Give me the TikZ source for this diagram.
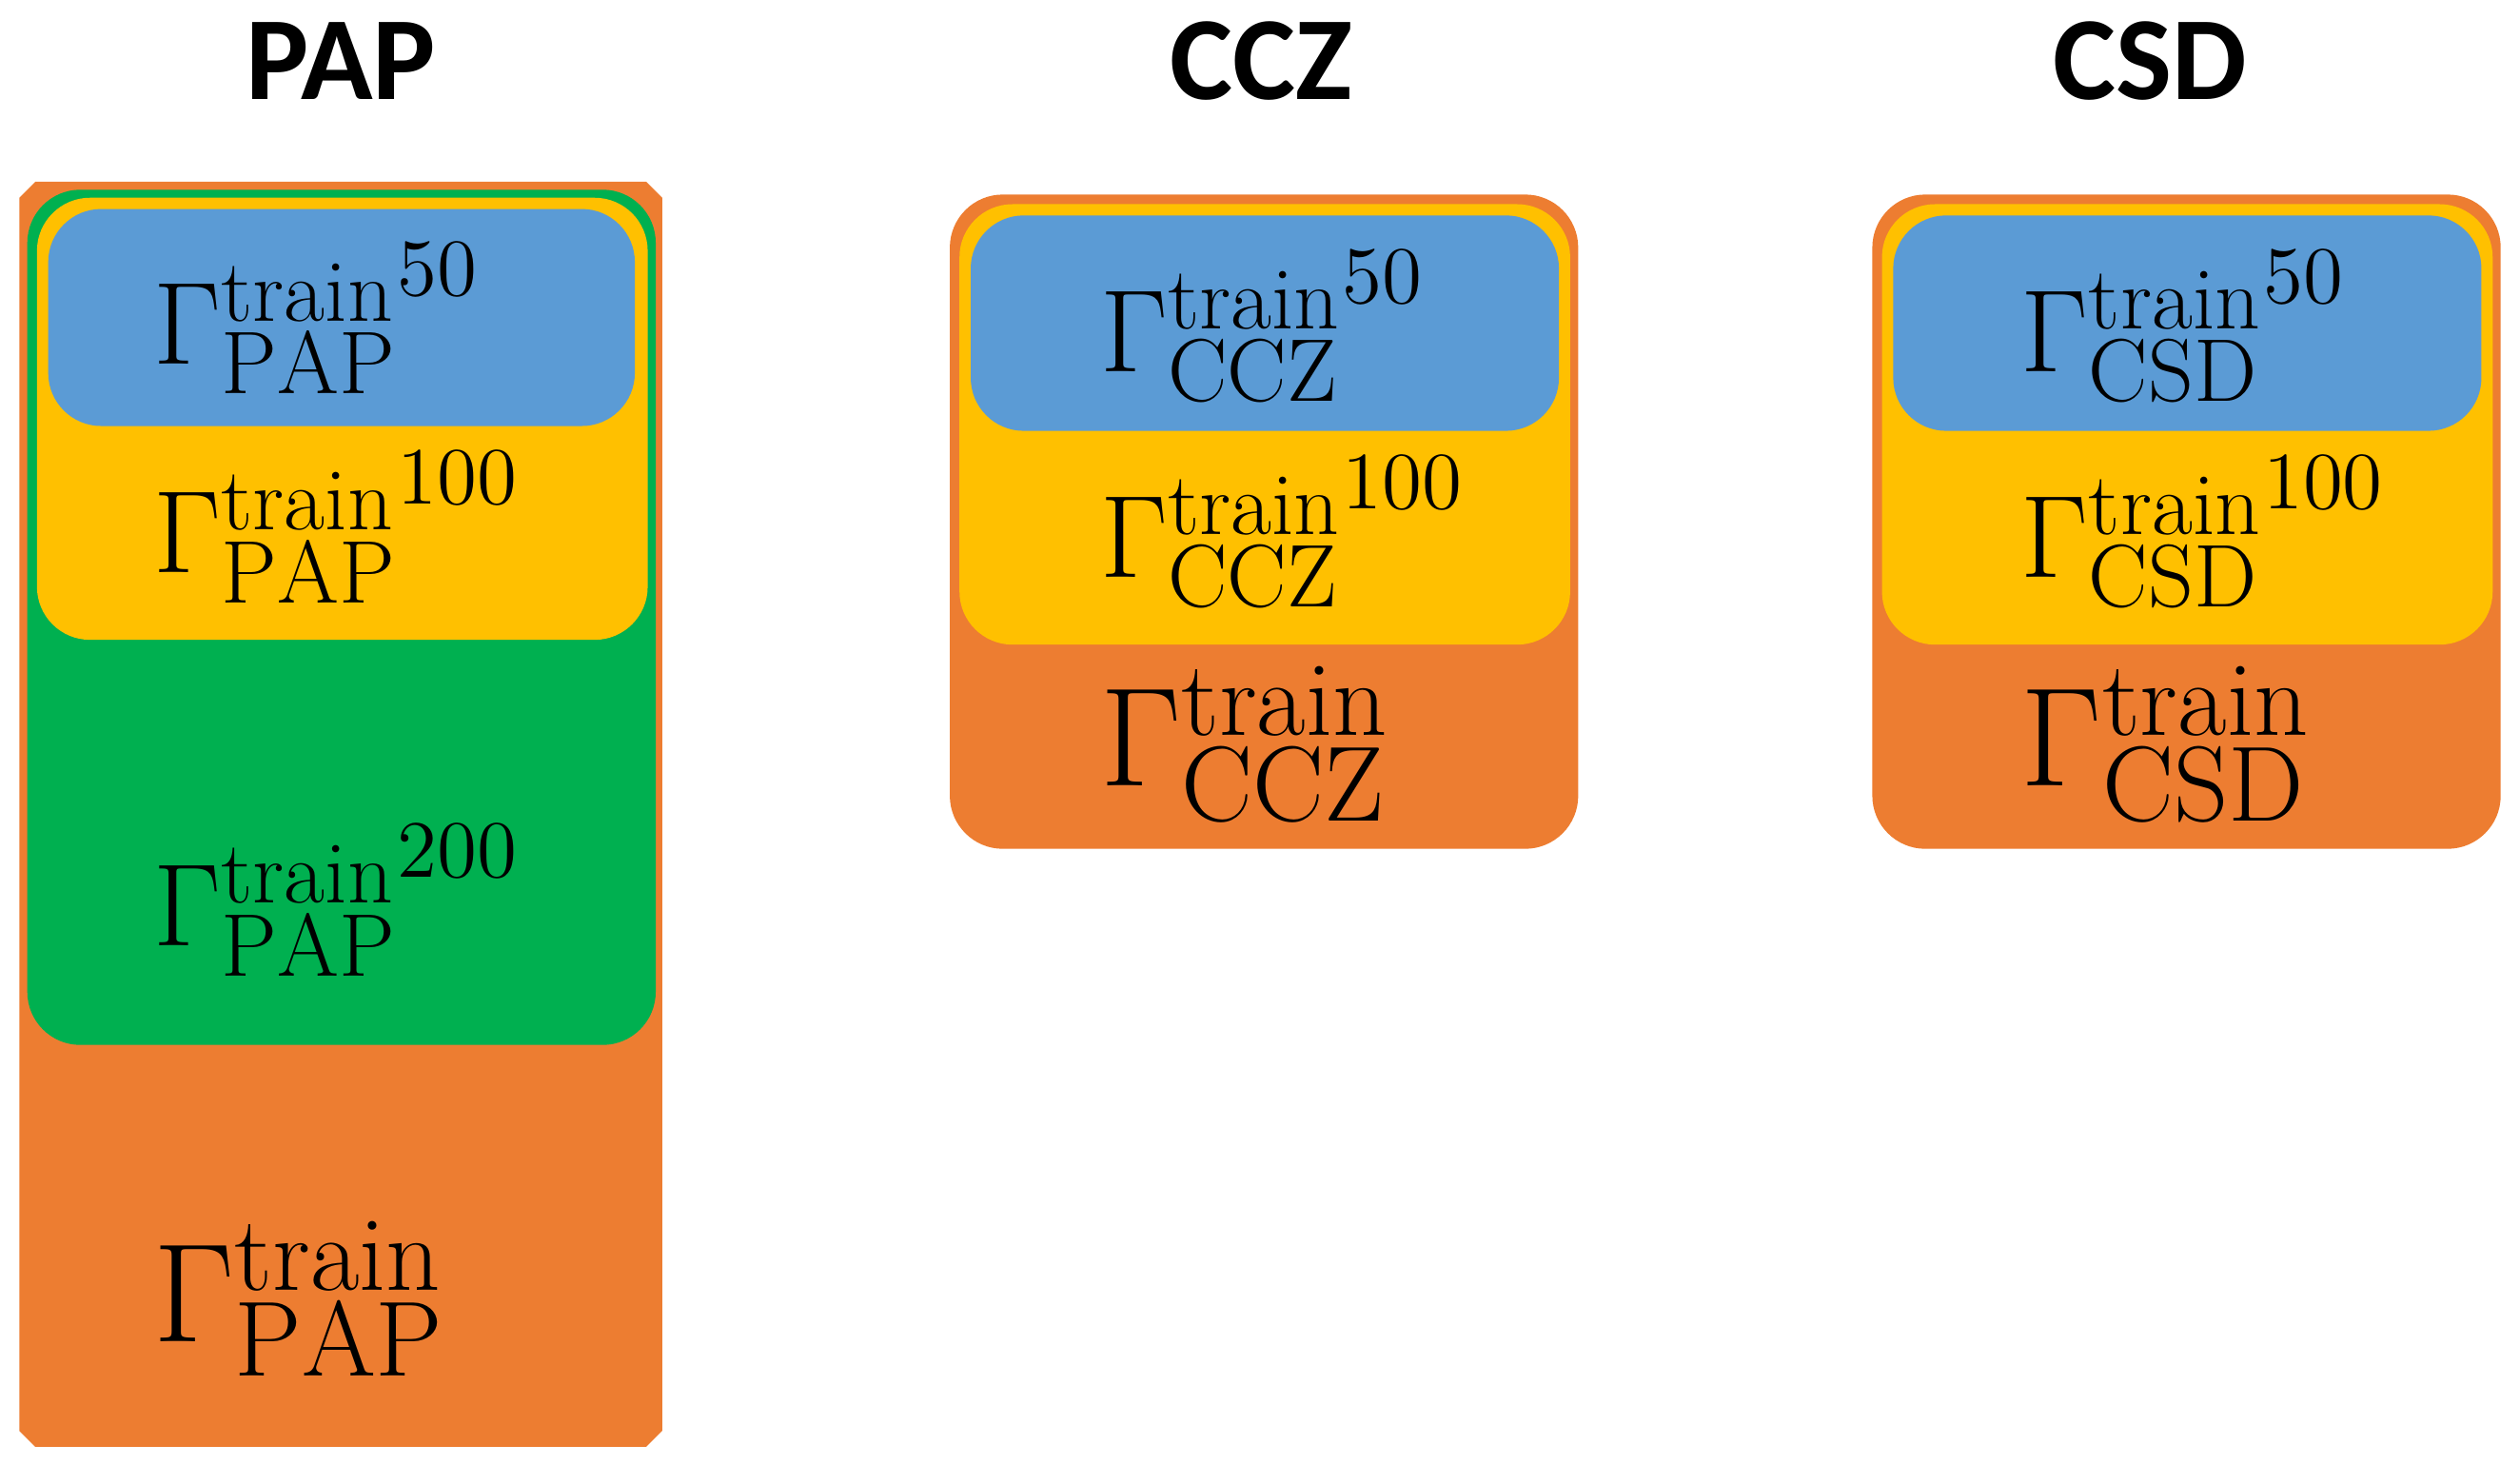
\documentclass[tikz,border=0pt]{standalone}
\usepackage{fontspec}
\newfontfamily\titlefont{Carlito}
\definecolor{cor}{HTML}{ED7D31}
\definecolor{cye}{HTML}{FFC000}
\definecolor{cgr}{HTML}{00B050}
\definecolor{cbl}{HTML}{5B9BD5}
\begin{document}
\begin{tikzpicture}[x=0.01cm,y=-0.01cm,
  box/.style={rounded corners=0.33cm},
  ttl/.style={font=\titlefont\bfseries\fontsize{21}{24}\selectfont},
  lab/.style={anchor=west,font=\fontsize{22.5}{24}\selectfont,inner sep=0},
  blab/.style={anchor=west,font=\fontsize{27}{30}\selectfont,inner sep=0}]
\useasboundingbox (0,0) rectangle (1568,911);
% PAP
\fill[cor] (22,113) -- (402,113) -- (412,123) -- (412,890) -- (402,900) -- (22,900) -- (12,890) -- (12,123) -- cycle;
\fill[cgr,box] (17,118) rectangle (408,650);
\fill[cye,box] (23,123) rectangle (403,398);
\fill[cbl,box] (30,130) rectangle (395,265);
\node[ttl] (t1) at (212,38) {PAP};
\node[lab] (p1) at (95,198) {${\Gamma_{\mathrm{PAP}}^{\mathrm{train}}}^{50}$};
\node[lab] (p2) at (95,328) {${\Gamma_{\mathrm{PAP}}^{\mathrm{train}}}^{100}$};
\node[lab] (p3) at (95,560) {${\Gamma_{\mathrm{PAP}}^{\mathrm{train}}}^{200}$};
\node[blab] (p4) at (95,808) {$\Gamma_{\mathrm{PAP}}^{\mathrm{train}}$};
% CCZ
\fill[cor,box] (591,121) rectangle (982,528);
\fill[cye,box] (597,127) rectangle (977,401);
\fill[cbl,box] (604,134) rectangle (970,268);
\node[ttl] (t2) at (785,38) {CCZ};
\node[lab] (c1) at (684,203) {${\Gamma_{\mathrm{CCZ}}^{\mathrm{train}}}^{50}$};
\node[lab] (c2) at (684,331) {${\Gamma_{\mathrm{CCZ}}^{\mathrm{train}}}^{100}$};
\node[blab] (c3) at (684,463) {$\Gamma_{\mathrm{CCZ}}^{\mathrm{train}}$};
% CSD
\fill[cor,box] (1165,121) rectangle (1556,528);
\fill[cye,box] (1171,127) rectangle (1551,401);
\fill[cbl,box] (1178,134) rectangle (1544,268);
\node[ttl] (t3) at (1338,38) {CSD};
\node[lab] (s1) at (1257,203) {${\Gamma_{\mathrm{CSD}}^{\mathrm{train}}}^{50}$};
\node[lab] (s2) at (1257,331) {${\Gamma_{\mathrm{CSD}}^{\mathrm{train}}}^{100}$};
\node[blab] (s3) at (1257,463) {$\Gamma_{\mathrm{CSD}}^{\mathrm{train}}$};
\end{tikzpicture}
\end{document}
